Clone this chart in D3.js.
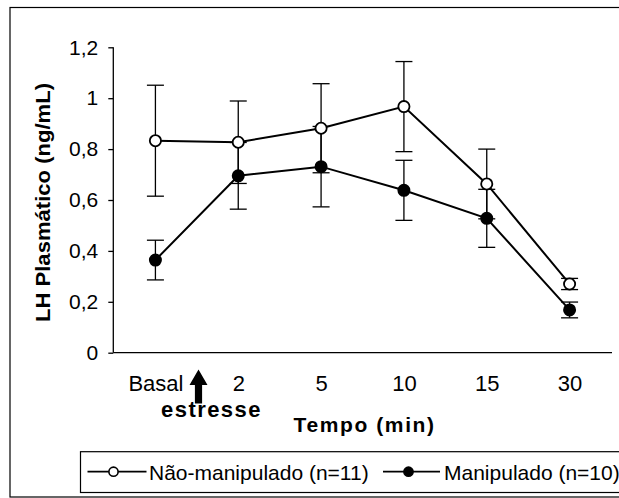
<!DOCTYPE html>
<html>
<head>
<meta charset="utf-8">
<script src="https://cdn.jsdelivr.net/npm/d3@7"></script>
<style>
  html, body { margin: 0; padding: 0; background: #fff; }
  svg { display: block; font-family: "Liberation Sans", Arial, sans-serif; }
</style>
</head>
<body>
<svg id="chart" width="619" height="498"></svg>
<script>
// Time points (min) after stress onset
const categories = ["Basal", "2", "5", "10", "15", "30"];

// Plasma LH (ng/mL), mean and SEM per group
const naoManipMean = [0.833, 0.827, 0.882, 0.967, 0.663, 0.270];
const naoManipSE   = [0.218, 0.162, 0.175, 0.177, 0.137, 0.022];
const manipMean    = [0.364, 0.695, 0.731, 0.638, 0.528, 0.168];
const manipSE      = [0.078, 0.131, 0.158, 0.118, 0.114, 0.031];

const yTickValues = [0, 0.2, 0.4, 0.6, 0.8, 1.0, 1.2];
const yTickLabels = ["0", "0,2", "0,4", "0,6", "0,8", "1", "1,2"];

const seriesNames = ["Não-manipulado (n=11)", "Manipulado (n=10)"];

const svg = d3.select("#chart");
const FONT = "Liberation Sans, Arial, sans-serif";

// Outer frame
svg.append("rect")
  .attr("x", 10).attr("y", 7.5)
  .attr("width", 640).attr("height", 489.5)
  .attr("fill", "none").attr("stroke", "#000").attr("stroke-width", 1.2);

const x = d3.scalePoint().domain(categories).range([114, 611]).padding(0.5);
const y = d3.scaleLinear().domain([0, 1.2]).range([352.7, 47.3]);

// Y axis
const yAxis = d3.axisLeft(y)
  .tickValues(yTickValues)
  .tickFormat((d, i) => yTickLabels[i])
  .tickSize(5)
  .tickPadding(10);
const gy = svg.append("g").attr("transform", "translate(113.3,0)").call(yAxis);
gy.select(".domain").attr("stroke", "#000").attr("stroke-width", 1.3).attr("d", `M0,${y(1.2)}V${y(0)}`);
gy.selectAll(".tick line").attr("stroke", "#000").attr("stroke-width", 1.3);
gy.selectAll(".tick text")
  .attr("font-size", 21).attr("fill", "#000").attr("font-family", FONT);

// X axis (baseline only, no tick marks)
const xAxis = d3.axisBottom(x).tickSize(0).tickPadding(23);
const gx = svg.append("g").attr("transform", `translate(0,${y(0)})`).call(xAxis);
gx.select(".domain").attr("stroke", "#000").attr("stroke-width", 1.3).attr("d", "M113.3,0H612");
gx.selectAll(".tick text")
  .attr("font-size", 22).attr("fill", "#000").attr("font-family", FONT);

// Stress onset arrow between Basal and 2 min
const ax = 198.5;
svg.append("path")
  .attr("d", `M${ax},369.5 L${ax + 9},385 L${ax + 3.6},385 L${ax + 3.6},403.5 L${ax - 3.6},403.5 L${ax - 3.6},385 L${ax - 9},385 Z`)
  .attr("fill", "#000");

svg.append("text")
  .attr("x", 161).attr("y", 416.7)
  .attr("textLength", 99.5).attr("lengthAdjust", "spacing")
  .attr("font-size", 22).attr("font-weight", "bold")
  .text("estresse");

// Axis titles
svg.append("text")
  .attr("x", 293.5).attr("y", 432)
  .attr("textLength", 140.5).attr("lengthAdjust", "spacing")
  .attr("font-size", 21).attr("font-weight", "bold")
  .text("Tempo (min)");

svg.append("text")
  .attr("transform", "translate(50,202.5) rotate(-90)")
  .attr("text-anchor", "middle")
  .attr("textLength", 239).attr("lengthAdjust", "spacingAndGlyphs")
  .attr("font-size", 21).attr("font-weight", "bold")
  .text("LH Plasmático (ng/mL)");

// Series drawing
const series = [
  { mean: naoManipMean, se: naoManipSE, fill: "#fff" },
  { mean: manipMean, se: manipSE, fill: "#000" }
];

const capHalf = 8.5;
const plot = svg.append("g");

series.forEach(s => {
  const pts = categories.map((c, i) => ({ c, m: s.mean[i], e: s.se[i] }));
  const eb = plot.append("g");
  pts.forEach(p => {
    const cx = x(p.c);
    eb.append("line").attr("x1", cx).attr("x2", cx)
      .attr("y1", y(p.m - p.e)).attr("y2", y(p.m + p.e))
      .attr("stroke", "#000").attr("stroke-width", 1.3);
    [p.m - p.e, p.m + p.e].forEach(v => {
      eb.append("line").attr("x1", cx - capHalf).attr("x2", cx + capHalf)
        .attr("y1", y(v)).attr("y2", y(v))
        .attr("stroke", "#000").attr("stroke-width", 1.3);
    });
  });
});

series.forEach(s => {
  const pts = categories.map((c, i) => ({ c, m: s.mean[i] }));
  plot.append("path")
    .datum(pts)
    .attr("fill", "none").attr("stroke", "#000").attr("stroke-width", 2)
    .attr("d", d3.line().x(d => x(d.c)).y(d => y(d.m)));
});

series.forEach(s => {
  const pts = categories.map((c, i) => ({ c, m: s.mean[i] }));
  plot.append("g").selectAll("circle").data(pts).join("circle")
    .attr("cx", d => x(d.c)).attr("cy", d => y(d.m))
    .attr("r", 5.6)
    .attr("fill", s.fill).attr("stroke", "#000").attr("stroke-width", 1.8);
});

// Legend
const lg = svg.append("g");
lg.append("rect")
  .attr("x", 80.5).attr("y", 451.7).attr("width", 560).attr("height", 40.8)
  .attr("fill", "#fff").attr("stroke", "#000").attr("stroke-width", 1.2);

const legendItems = [
  { name: seriesNames[0], fill: "#fff", x0: 87.5, x1: 146.5, cx: 113.5, tx: 149 },
  { name: seriesNames[1], fill: "#000", x0: 383, x1: 440, cx: 408.5, tx: 444 }
];
legendItems.forEach(it => {
  lg.append("line").attr("x1", it.x0).attr("x2", it.x1)
    .attr("y1", 471.7).attr("y2", 471.7)
    .attr("stroke", "#000").attr("stroke-width", 1.8);
  lg.append("circle").attr("cx", it.cx).attr("cy", 471.7).attr("r", 4.6)
    .attr("fill", it.fill).attr("stroke", "#000").attr("stroke-width", 1.6);
  lg.append("text").attr("x", it.tx).attr("y", 479.5)
    .attr("font-size", 21).attr("font-family", FONT).text(it.name);
});
</script>
</body>
</html>
